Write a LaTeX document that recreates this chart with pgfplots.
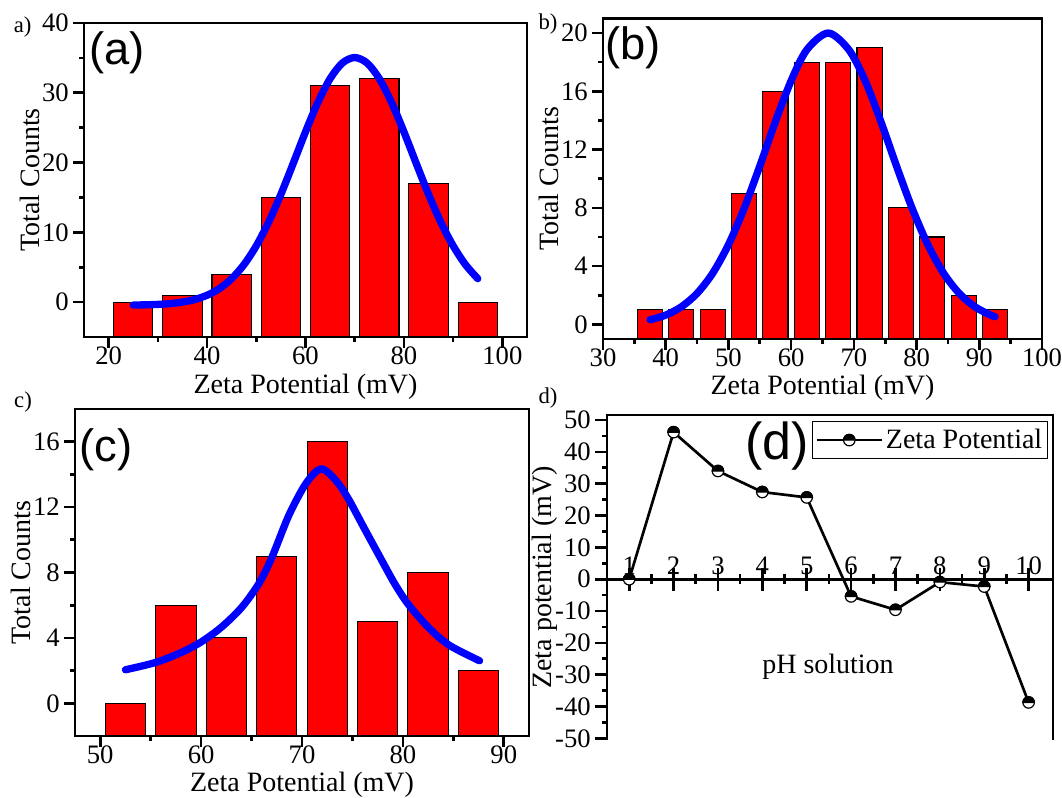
\documentclass[border=0pt]{standalone}
\usepackage{fontspec}
\setmainfont{Liberation Serif}
\newfontfamily\arialf{Liberation Sans}
\usepackage{pgfplots}
\pgfplotsset{compat=1.18}

\pgfdeclareplotmark{halfcirc}{%
  \pgfpathcircle{\pgfpointorigin}{\pgfplotmarksize}%
  \pgfsetfillcolor{white}%
  \pgfusepathqfillstroke
  \pgfpathmoveto{\pgfqpoint{\pgfplotmarksize}{0pt}}%
  \pgfpatharc{0}{180}{\pgfplotmarksize}%
  \pgfpathclose
  \pgfsetfillcolor{black}%
  \pgfusepathqfillstroke
}

\newcommand{\tickfont}{\fontsize{20pt}{20pt}\selectfont}
\newcommand{\labfont}{\fontsize{21pt}{21pt}\selectfont}
\newcommand{\subfont}{\fontsize{17pt}{17pt}\selectfont}

\pgfplotsset{
  histo/.style={
    scale only axis, anchor=south west,
    axis line style={line width=2pt},
    every tick/.style={black, line width=2pt},
    tick align=outside, xtick pos=left, ytick pos=left,
    major tick length=8.25pt, minor tick length=3.75pt,
    minor x tick num=1, minor y tick num=1,
    tick label style={font=\tickfont, inner sep=0.5pt},
    xticklabel style={yshift=1.5pt},
    yticklabel style={xshift=-2.5pt},
    label style={font=\labfont},
    /pgf/number format/assume math mode=true,
    xlabel={Zeta Potential (mV)}, ylabel={Total Counts},
  },
  bars/.style={ybar, fill=red, draw=black, line width=0.8pt},
  fitc/.style={blue, line width=5.5pt, smooth, line cap=round, line join=round},
}

\begin{document}
\begin{tikzpicture}
\useasboundingbox (0,0) rectangle (796.5pt,598.5pt);

% ---------------- (a) ----------------
\begin{axis}[histo, at={(63pt,345.75pt)}, width=332.25pt, height=235.5pt,
  xmin=15, xmax=105, ymin=-5, ymax=40,
  y coord trafo/.code={\pgfmathparse{#1+5}},
  y coord inv trafo/.code={\pgfmathparse{#1-5}},
  xtick={20,40,60,80,100}, ytick={0,10,20,30,40},
  xlabel style={at={(rel axis cs:0.5,-0.159)}, anchor=center},
  ylabel style={at={(rel axis cs:-0.122,0.5)}, anchor=center}]
\addplot[bars, bar width=8] coordinates {
 (25,0) (35,1) (45,4) (55,15) (65,31) (75,32) (85,17) (95,0)};
\addplot[fitc] coordinates {
 (25,-0.42) (27.5,-0.39) (30,-0.33) (32.5,-0.22) (35,0.00) (37.5,0.37)
 (40,0.98) (42.5,1.93) (45,3.36) (47.5,5.37) (50,8.06) (52.5,11.44)
 (55,15.44) (57.5,19.87) (60,24.39) (62.5,28.59) (65,32.02) (67.5,34.27)
 (70,35.05) (72.5,34.27) (75,32.02) (77.5,28.59) (80,24.39) (82.5,19.87)
 (85,15.44) (87.5,11.44) (90,8.06) (92.5,5.37) (95,3.36)};
\node[font=\arialf\fontsize{34pt}{34pt}\selectfont] at (rel axis cs:0.0745,0.904) {(a)};
\end{axis}

% ---------------- (b) ----------------
\begin{axis}[histo, at={(452.25pt,344.25pt)}, width=329.25pt, height=240.4pt,
  xmin=30, xmax=100, ymin=-1, ymax=21,
  y coord trafo/.code={\pgfmathparse{#1+1}},
  y coord inv trafo/.code={\pgfmathparse{#1-1}},
  xtick={30,40,...,100}, ytick={0,4,...,20},
  xlabel style={at={(rel axis cs:0.5,-0.153)}, anchor=center},
  ylabel style={at={(rel axis cs:-0.124,0.5)}, anchor=center}]
\addplot[bars, bar width=4] coordinates {
 (37.5,1) (42.5,1) (47.5,1) (52.5,9) (57.5,16) (62.5,18) (67.5,18)
 (72.5,19) (77.5,8) (82.5,6) (87.5,2) (92.5,1)};
\addplot[fitc] coordinates {
 (37.5,0.32) (40,0.64) (42.5,1.21) (45,2.13) (47.5,3.52) (50,5.47)
 (52.5,7.96) (55,10.87) (57.5,13.93) (60,16.73) (62.5,18.85) (65.9,20.0)
 (69.2,18.85) (71.8,16.73) (74.3,13.93) (76.8,10.87) (79.3,7.96)
 (81.8,5.47) (84.3,3.52) (86.8,2.13) (89.3,1.21) (91.8,0.64) (92.5,0.53)};
\node[font=\arialf\fontsize{34pt}{34pt}\selectfont] at (rel axis cs:0.068,0.907) {(b)};
\end{axis}

% ---------------- (c) ----------------
\begin{axis}[histo, at={(56.25pt,46.5pt)}, width=340.5pt, height=245.25pt,
  xmin=47.5, xmax=92.5, ymin=-2, ymax=18,
  y coord trafo/.code={\pgfmathparse{#1+2}},
  y coord inv trafo/.code={\pgfmathparse{#1-2}},
  xtick={50,60,...,90}, ytick={0,4,...,16},
  xlabel style={at={(rel axis cs:0.5,-0.15)}, anchor=center},
  ylabel style={at={(rel axis cs:-0.1185,0.5)}, anchor=center}]
\addplot[bars, bar width=4] coordinates {
 (52.5,0) (57.5,6) (62.5,4) (67.5,9) (72.5,16) (77.5,5) (82.5,8) (87.5,2)};
\addplot[fitc] coordinates {
 (52.5,2.05) (55.5,2.5) (58,3.1) (60,3.75) (62,4.65) (64,5.85) (65.7,7.3)
 (67,8.9) (68.7,11.5) (70.4,13.45) (71.9,14.34) (73.4,13.6) (74.6,12.5)
 (76,10.9) (77.5,9.2) (79.2,7.3) (80.6,6.0) (82.6,4.6) (84.6,3.55) (87.6,2.6)};
\node[font=\arialf\fontsize{34pt}{34pt}\selectfont] at (rel axis cs:0.068,0.875) {(c)};
\end{axis}

% ---------------- (d) frame ----------------
\begin{axis}[scale only axis, anchor=south west, at={(455.25pt,43.5pt)},
  width=334.5pt, height=243.75pt,
  xmin=0.5, xmax=10.55, ymin=-50.5, ymax=51.6,
  axis x line=none, axis y line=box,
  y axis line style={line width=2pt, -},
  ytick={-50,-40,...,50}, minor y tick num=1,
  ytick pos=left, ytick align=outside,
  every tick/.style={black, line width=2pt},
  major tick length=9pt, minor tick length=3.75pt,
  tick label style={font=\tickfont, inner sep=0.5pt},
  yticklabel style={xshift=-2.5pt},
  /pgf/number format/assume math mode=true,
  ylabel={Zeta potential (mV)}, label style={font=\labfont},
  ylabel style={at={(rel axis cs:-0.140,0.5)}, anchor=center},
  clip=false]
\draw[line width=2pt, line cap=rect] (rel axis cs:0,1) -- (rel axis cs:1,1);
\end{axis}

% ---------------- (d) data ----------------
\begin{axis}[scale only axis, anchor=south west, at={(455.25pt,43.5pt)},
  width=334.5pt, height=243.75pt,
  xmin=0.5, xmax=10.55, ymin=-50.5, ymax=51.6,
  axis y line=none, axis x line=middle,
  every inner x axis line/.append style={-},
  x axis line style={-, line width=2pt},
  xtick={1,2,...,10}, minor x tick num=1, xtick align=center,
  every tick/.style={black, line width=2pt},
  major tick length=17pt, minor tick length=7.5pt,
  xticklabel style={font=\tickfont, anchor=base, yshift=12pt},
  /pgf/number format/assume math mode=true,
  legend style={at={(rel axis cs:0.989,0.982)}, anchor=north east,
    draw=black, line width=0.8pt, font=\labfont,
    inner xsep=2pt, inner ysep=4pt},
  legend image code/.code={\draw[mark repeat=2,mark phase=2,#1] plot coordinates {(0pt,0pt) (24.5pt,0pt) (49pt,0pt)};},
  clip=false]
\addplot[black, line width=2pt, mark=halfcirc, mark size=4.3pt,
  mark options={line width=0.9pt}] coordinates {
 (1,0) (2,46.2) (3,34.0) (4,27.4) (5,25.7) (6,-5.4) (7,-9.6) (8,-0.9)
 (9,-2.3) (10,-38.7)};
\addlegendentry{Zeta Potential}
\node[font=\arialf\fontsize{39pt}{39pt}\selectfont] at (rel axis cs:0.382,0.903) {(d)};
\end{axis}

% ---------------- free texts ----------------
\node[font=\subfont] at (17pt,578.25pt) {a)};
\node[font=\subfont] at (411pt,580.5pt) {b)};
\node[font=\subfont] at (17.25pt,297pt) {c)};
\node[font=\subfont] at (411pt,300pt) {d)};
\node[font=\labfont] at (621pt,98.25pt) {pH solution};
\end{tikzpicture}
\end{document}
